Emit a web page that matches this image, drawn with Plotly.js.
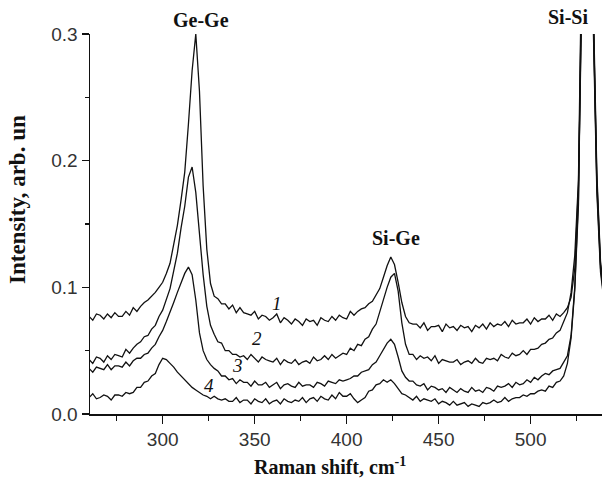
<!DOCTYPE html>
<html>
<head>
<meta charset="utf-8">
<script src="https://cdn.plot.ly/plotly-3.0.1.min.js"></script>
<style>html,body{margin:0;padding:0;background:#fff;}#chart{width:602px;height:484px;}</style>
</head>
<body>
<div id="chart"></div>
<script>
// Raman shift, cm^-1
const ramanShift = [260,262,264,266,268,270,272,274,276,278,280,282,284,286,288,290,292,294,296,298,
300,302,304,306,308,310,312,314,316,318,320,322,324,326,328,330,332,334,336,338,
340,342,344,346,348,350,352,354,356,358,360,362,364,366,368,370,372,374,376,378,
380,382,384,386,388,390,392,394,396,398,400,402,404,406,408,410,412,414,416,418,
420,422,424,426,428,430,432,434,436,438,440,442,444,446,448,450,452,454,456,458,
460,462,464,466,468,470,472,474,476,478,480,482,484,486,488,490,492,494,496,498,
500,502,504,506,508,510,512,514,516,518,520,522,524,526,528,530,532,534,536,538,540];

const spectrum1 = [.077,.074,.079,.078,.075,.079,.076,.080,.077,.077,.081,.078,.084,.081,.085,.088,.090,.093,.096,.100,
.104,.111,.119,.134,.149,.169,.191,.229,.271,.300,.255,.180,.130,.103,.093,.091,.087,.087,.083,.086,
.080,.084,.080,.079,.078,.081,.075,.078,.077,.074,.076,.079,.072,.076,.074,.071,.075,.073,.070,.075,
.073,.074,.070,.076,.074,.073,.077,.074,.078,.076,.075,.081,.078,.081,.083,.084,.087,.089,.094,.099,
.108,.117,.124,.118,.104,.088,.077,.072,.071,.071,.068,.072,.066,.069,.069,.070,.065,.071,.068,.069,
.066,.070,.068,.069,.065,.070,.068,.071,.067,.072,.069,.071,.070,.073,.069,.074,.071,.072,.072,.075,
.071,.076,.073,.075,.075,.078,.074,.079,.077,.080,.084,.092,.115,.180,.340,.800,.800,.330,.190,.120,.095];

const spectrum2 = [.043,.040,.045,.044,.041,.046,.043,.047,.046,.045,.051,.048,.052,.055,.057,.061,.062,.067,.070,.077,
.082,.091,.099,.113,.127,.147,.164,.187,.195,.175,.140,.110,.085,.070,.063,.057,.056,.050,.050,.047,
.047,.045,.046,.043,.047,.044,.041,.045,.043,.042,.041,.044,.039,.043,.041,.040,.043,.039,.041,.042,
.040,.045,.042,.043,.046,.043,.047,.044,.046,.048,.047,.052,.050,.055,.054,.059,.061,.067,.071,.081,
.090,.100,.108,.111,.097,.072,.055,.047,.047,.043,.046,.044,.045,.042,.046,.040,.043,.042,.041,.041,
.043,.039,.041,.042,.040,.044,.041,.040,.044,.043,.044,.042,.047,.045,.044,.048,.046,.047,.050,.047,
.051,.051,.052,.055,.056,.059,.060,.064,.066,.073,.080,.096,.125,.185,.330,.780,.790,.320,.185,.118,.093];

const spectrum3 = [.036,.033,.037,.036,.035,.039,.035,.038,.038,.037,.041,.038,.042,.044,.044,.047,.048,.052,.055,.061,
.066,.073,.080,.088,.096,.103,.111,.116,.110,.090,.064,.050,.043,.039,.036,.034,.030,.030,.027,.028,
.024,.027,.025,.025,.022,.026,.023,.023,.025,.021,.023,.025,.020,.023,.024,.022,.021,.025,.022,.023,
.023,.021,.025,.024,.022,.026,.025,.024,.027,.026,.027,.028,.030,.030,.033,.034,.035,.039,.041,.046,
.051,.056,.059,.055,.045,.034,.029,.026,.026,.023,.022,.024,.019,.022,.021,.019,.020,.017,.021,.019,
.017,.020,.018,.017,.021,.018,.019,.017,.021,.020,.018,.022,.021,.022,.024,.021,.025,.023,.024,.027,
.025,.029,.027,.030,.032,.031,.034,.035,.036,.041,.046,.062,.100,.170,.320,.770,.780,.320,.180,.115,.090];

const spectrum4 = [.013,.016,.012,.013,.015,.014,.011,.015,.015,.014,.017,.016,.017,.021,.021,.025,.026,.030,.032,.039,
.044,.043,.040,.037,.033,.030,.027,.024,.021,.019,.017,.015,.014,.012,.014,.012,.011,.012,.010,.010,
.013,.009,.011,.011,.008,.012,.010,.009,.012,.008,.010,.011,.008,.012,.010,.009,.011,.010,.013,.009,
.012,.013,.010,.014,.012,.011,.015,.012,.017,.014,.014,.016,.012,.009,.011,.013,.018,.019,.023,.024,
.027,.025,.027,.024,.020,.016,.015,.013,.011,.014,.010,.012,.011,.010,.012,.008,.010,.009,.007,.010,
.007,.008,.009,.006,.008,.007,.006,.009,.008,.009,.011,.009,.010,.013,.010,.012,.013,.013,.015,.014,
.016,.016,.018,.019,.018,.022,.021,.025,.026,.030,.040,.060,.098,.165,.310,.760,.770,.310,.175,.112,.088];

const seriesList = [spectrum1, spectrum2, spectrum3, spectrum4];
const curveNumbers = ['1','2','3','4'];
const peakLabels = ['Ge-Ge','Si-Ge','Si-Si'];

// layout geometry (pixels)
const W = 602, H = 484, L = 90, R = 0, T = 34, B = 70;
const pw = W - L - R, ph = H - T - B;
const px = v => (v - L) / pw;
const py = v => (H - B - v) / ph;

const traces = seriesList.map(s => ({
  x: ramanShift, y: s, type: 'scatter', mode: 'lines',
  line: {color: '#111', width: 1.3}, hoverinfo: 'skip', showlegend: false
}));

const serif = 'Liberation Serif, Times New Roman, serif';
const peakPos = [[201, 20], [396, 238], [568, 17]];
const numPos = [[277, 303], [257, 338], [237, 365], [209, 385]];

const annotations = [];
peakLabels.forEach((t, i) => annotations.push({
  text: '<b>' + t + '</b>', xref: 'paper', yref: 'paper',
  x: px(peakPos[i][0]), y: py(peakPos[i][1]), xanchor: 'center', yanchor: 'middle',
  showarrow: false, font: {family: serif, size: 20, color: '#111'}
}));
curveNumbers.forEach((t, i) => annotations.push({
  text: '<i>' + t + '</i>', xref: 'paper', yref: 'paper',
  x: px(numPos[i][0]), y: py(numPos[i][1]), xanchor: 'center', yanchor: 'middle',
  showarrow: false, font: {family: serif, size: 19, color: '#111'}
}));
annotations.push({
  text: '<b>Intensity, arb. un</b>', xref: 'paper', yref: 'paper',
  x: px(17), y: py(200), xanchor: 'center', yanchor: 'middle', textangle: -90,
  showarrow: false, font: {family: serif, size: 23, color: '#111'}
});
annotations.push({
  text: '<b>Raman shift, cm<sup>-1</sup></b>', xref: 'paper', yref: 'paper',
  x: px(330), y: py(466), xanchor: 'center', yanchor: 'middle',
  showarrow: false, font: {family: serif, size: 20, color: '#111'}
});

const tickFont = {family: 'Liberation Sans, Arial, sans-serif', size: 19, color: '#333'};

const layout = {
  width: W, height: H,
  margin: {l: L, r: R, t: T, b: B, pad: 0},
  paper_bgcolor: '#fff', plot_bgcolor: '#fff',
  showlegend: false,
  xaxis: {
    range: [260.5, 538.8], tickvals: [300, 350, 400, 450, 500],
    ticks: 'outside', ticklen: 8, tickwidth: 1.5, tickcolor: '#111',
    showline: true, linecolor: '#111', linewidth: 1.5, mirror: false,
    showgrid: false, zeroline: false, tickfont: tickFont,
    minor: {tickvals: [275, 325, 375, 425, 475, 525], ticks: 'outside', ticklen: 5, tickwidth: 1.5, tickcolor: '#111', showgrid: false}
  },
  yaxis: {
    range: [0, 0.3], tickvals: [0, 0.1, 0.2, 0.3], ticktext: ['0.0', '0.1', '0.2', '0.3'],
    ticks: 'outside', ticklen: 7, tickwidth: 1.5, tickcolor: '#111',
    showline: true, linecolor: '#111', linewidth: 1.5, mirror: false,
    showgrid: false, zeroline: false, tickfont: tickFont,
    minor: {tickvals: [0.05, 0.15, 0.25], ticks: 'outside', ticklen: 4, tickwidth: 1.5, tickcolor: '#111', showgrid: false}
  },
  annotations: annotations
};

Plotly.newPlot('chart', traces, layout, {staticPlot: true, displayModeBar: false});
</script>
</body>
</html>
